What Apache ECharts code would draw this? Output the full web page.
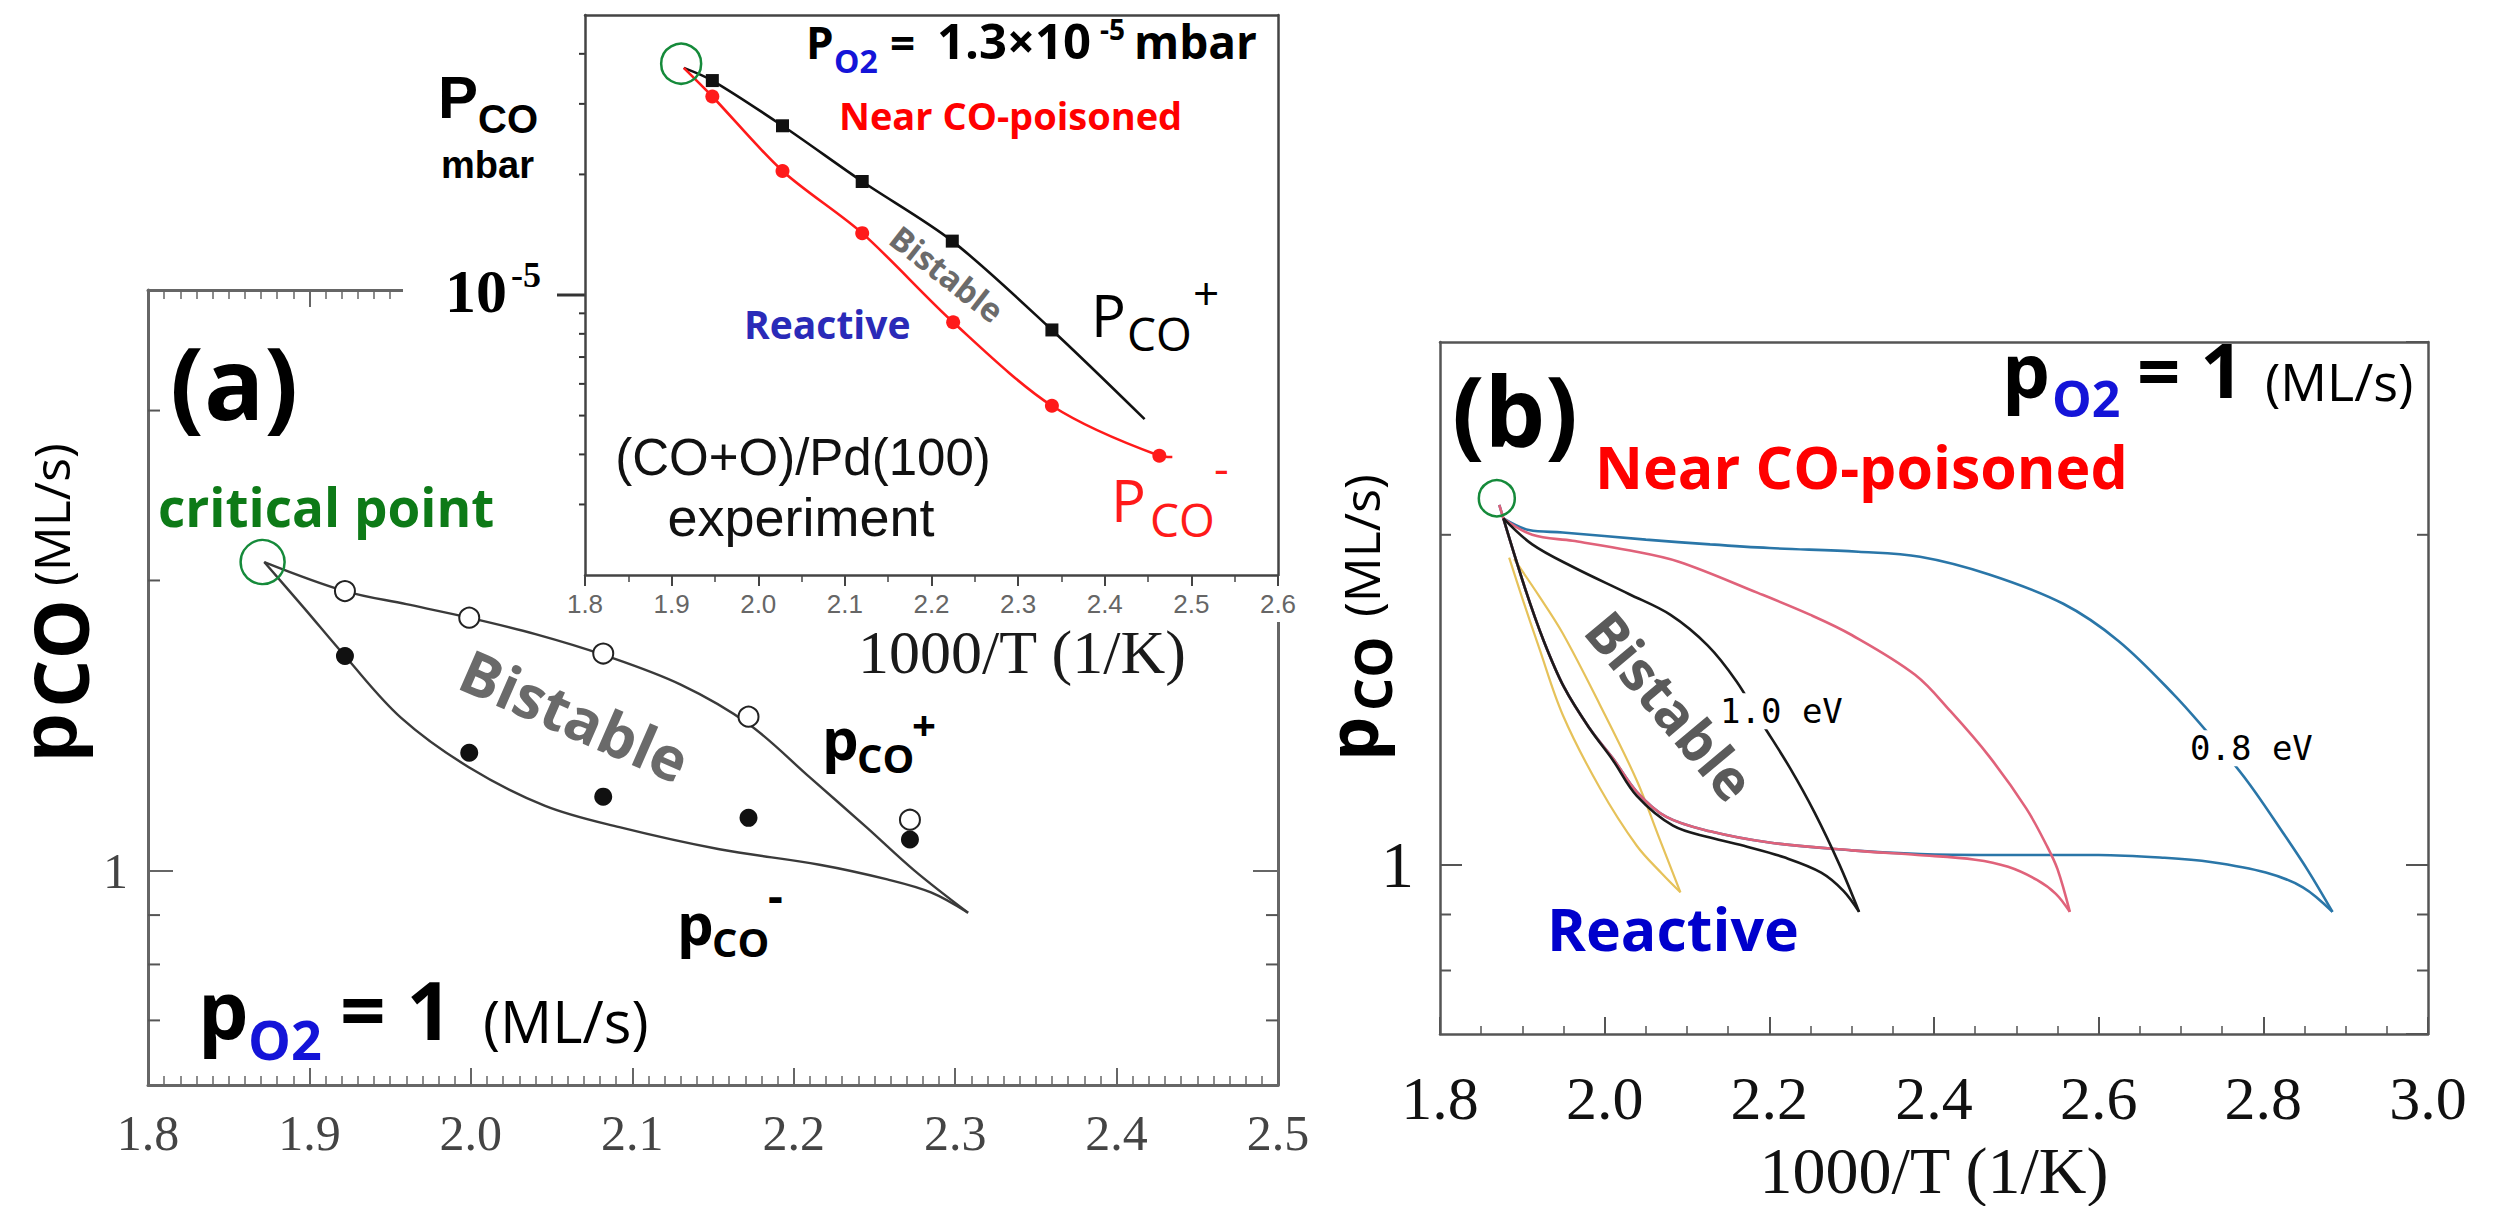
<!DOCTYPE html>
<html>
<head>
<meta charset="utf-8">
<title>CO oxidation bistability</title>
<script src="https://cdn.jsdelivr.net/npm/echarts/dist/echarts.min.js"></script>
<style>
html,body{margin:0;padding:0;background:#ffffff;}
#chart{width:2495px;height:1206px;}
</style>
</head>
<body>
<div id="chart"></div>
<script>
// ================= DATA =================
// ---- Panel (a): simulation, pO2 = 1 ML/s ----
const aXTicks = [1.8, 2.5, 0.1];            // min, max, step of 1000/T
const aYRange = [0.6, 4];                    // pCO (ML/s), log
const aYMinorTicks = [0.7, 0.8, 0.9, 2, 3];
const aCritical = [[1.871, 2.09]];
const aPlusCurve = [[1.872,2.09],[1.922,1.95],[1.96,1.89],[1.999,1.83],[2.04,1.76],[2.082,1.675],[2.13,1.56],[2.172,1.42],[2.21,1.25],[2.245,1.11],[2.275,1.0],[2.308,0.905]];
const aMinusCurve = [[1.872,2.09],[1.897,1.87],[1.922,1.67],[1.957,1.44],[1.999,1.28],[2.046,1.168],[2.092,1.11],[2.154,1.053],[2.216,1.015],[2.258,0.98],[2.285,0.95],[2.308,0.905]];
const aPlusPoints = [[1.922,1.95],[1.999,1.83],[2.082,1.68],[2.172,1.445],[2.272,1.13]];
const aMinusPoints = [[1.922,1.67],[1.999,1.326],[2.082,1.194],[2.172,1.135],[2.272,1.078]];

// ---- Inset: (CO+O)/Pd(100) experiment, PO2 = 1.3e-5 mbar ----
const inXTicks = [1.8, 2.6, 0.1];
const inYRange = [2e-6, 5e-5];
const inYMinorTicks = [3e-6,4e-6,5e-6,6e-6,7e-6,8e-6,9e-6,2e-5,3e-5,4e-5];
const inYMajorTicks = [1e-5];
const inCritical = [[1.911, 3.78e-5]];
const inPlusCurve = [[1.914,3.69e-5],[1.947,3.43e-5],[2.028,2.645e-5],[2.12,1.92e-5],[2.224,1.363e-5],[2.339,8.18e-6],[2.446,4.9e-6]];
const inPlusPoints = [[1.947,3.43e-5],[2.028,2.645e-5],[2.12,1.92e-5],[2.224,1.363e-5],[2.339,8.18e-6]];
const inMinusCurve = [[1.914,3.69e-5],[1.947,3.13e-5],[2.028,2.04e-5],[2.12,1.427e-5],[2.225,8.55e-6],[2.339,5.29e-6],[2.463,3.97e-6],[2.478,3.94e-6]];
const inMinusPoints = [[1.947,3.13e-5],[2.028,2.04e-5],[2.12,1.427e-5],[2.225,8.55e-6],[2.339,5.29e-6],[2.463,3.97e-6]];

// ---- Panel (b): simulation for several barriers ----
const bXTicks = [1.8, 3.0, 0.2];
const bYRange = [0.7, 3];
const bYMinorTicks = [0.8, 0.9, 2];
const bCritical = [[1.869, 2.16]];
const b10Up = [[1.877,2.07],[1.912,1.96],[1.961,1.87],[2.03,1.765],[2.08,1.69],[2.125,1.585],[2.16,1.47],[2.19,1.35],[2.225,1.225],[2.255,1.115],[2.285,1.0],[2.309,0.905]];
const b10Low = [[1.877,2.07],[1.903,1.79],[1.926,1.6],[1.951,1.45],[1.982,1.33],[2.01,1.245],[2.039,1.155],[2.083,1.085],[2.128,1.058],[2.173,1.038],[2.218,1.015],[2.263,0.983],[2.29,0.946],[2.309,0.905]];
const b09Up = [[1.877,2.07],[1.912,2.0],[1.961,1.975],[2.031,1.935],[2.09,1.89],[2.186,1.77],[2.25,1.69],[2.3,1.62],[2.377,1.49],[2.42,1.38],[2.467,1.255],[2.512,1.125],[2.537,1.04],[2.55,0.99],[2.565,0.905]];
const b09Low = [[1.872,2.13],[1.903,1.79],[1.926,1.6],[1.951,1.45],[1.982,1.33],[2.01,1.25],[2.039,1.165],[2.075,1.105],[2.128,1.072],[2.2,1.047],[2.3,1.03],[2.38,1.02],[2.45,1.01],[2.49,0.995],[2.525,0.968],[2.548,0.94],[2.565,0.905]];
const b08Up = [[1.877,2.07],[1.908,2.02],[1.949,2.01],[2.05,1.98],[2.128,1.96],[2.2,1.945],[2.308,1.93],[2.383,1.91],[2.467,1.84],[2.557,1.73],[2.624,1.6],[2.691,1.43],[2.736,1.31],[2.781,1.19],[2.826,1.063],[2.855,0.985],[2.884,0.905]];
const b08Low = [[1.872,2.13],[1.903,1.79],[1.926,1.6],[1.951,1.45],[1.982,1.33],[2.01,1.25],[2.039,1.165],[2.075,1.105],[2.128,1.072],[2.2,1.047],[2.3,1.03],[2.383,1.022],[2.47,1.02],[2.6,1.02],[2.68,1.014],[2.736,1.005],[2.803,0.983],[2.848,0.953],[2.884,0.905]];
const bYellowA = [[1.884,1.906],[1.9,1.75],[1.92,1.58],[1.949,1.37],[1.994,1.175],[2.039,1.04],[2.07,0.98],[2.092,0.943]];
const bYellowB = [[1.89,1.9],[1.92,1.76],[1.949,1.626],[1.994,1.4],[2.039,1.193],[2.065,1.063],[2.092,0.943]];

// ================= HELPERS =================
const FONT_MID = {'Open Sans':0.388,'Liberation Serif':0.3375,'DejaVu Sans Mono':0.346,'Liberation Sans':0.3465};
function T(str, x, base, size, o) {
  o = o || {};
  const fam = o.fam || 'Open Sans';
  const el = {type:'text', x:x, y:base - FONT_MID[fam]*size, z:o.z||30, rotation:o.rot||0, silent:true,
    style:{text:str, fontFamily:fam, fontSize:size, fontWeight:o.w||'bold', fill:o.c||'#000',
      textAlign:o.align||'left', verticalAlign:'middle', textVerticalAlign:'middle'}};
  if (o.bg) { el.style.backgroundColor = o.bg; el.style.padding = [1,3]; }
  return el;
}
// indices: panel (a) -> axes 0, inset -> axes 2, panel (b) -> axes 4
function line(data, idx, color, width, z, smooth) {
  return {type:'line', xAxisIndex:idx, yAxisIndex:idx, data:data, symbol:'none', showSymbol:false,
    smooth: smooth===undefined?0.35:smooth, lineStyle:{color:color, width:width}, z:z||2, silent:true, clip:false};
}
function pts(data, idx, symbol, size, fill, stroke, bw, z) {
  return {type:'scatter', xAxisIndex:idx, yAxisIndex:idx, data:data, symbol:symbol, symbolSize:size,
    itemStyle:{color:fill, borderColor:stroke, borderWidth:bw, opacity:1}, z:z||3, silent:true, clip:false};
}
function ticks(vals, idx, xMin, xMax, len, mode, z, width) {
  return {type:'custom', xAxisIndex:idx, yAxisIndex:idx, z:z||1, silent:true, clip:false,
    data: vals.map(v => [xMin, v]),
    renderItem: function (params, api) {
      const v = api.value(1);
      const pl = api.coord([xMin, v]), pr = api.coord([xMax, v]);
      const st = {stroke:'#555', lineWidth:width||2};
      const ch = [];
      if (mode === 'both') {
        ch.push({type:'line', shape:{x1:pl[0], y1:pl[1], x2:pl[0]+len, y2:pl[1]}, style:st});
        ch.push({type:'line', shape:{x1:pr[0], y1:pr[1], x2:pr[0]-len, y2:pr[1]}, style:st});
      } else {
        ch.push({type:'line', shape:{x1:pl[0], y1:pl[1], x2:pl[0]-len, y2:pl[1]}, style:{stroke:'#333', lineWidth:width||2}});
      }
      return {type:'group', children:ch};
    }};
}
function xAx(grid, rng, pos, o) {
  return {type:'value', gridIndex:grid, min:rng[0], max:rng[1], interval:rng[2], position:pos,
    splitLine:{show:false}, axisLine:{onZero:false, lineStyle:{color:o.lc, width:o.lw}},
    axisTick:{show:o.tick!==false, inside:o.inside, length:o.tl, lineStyle:{color:o.lc, width:2}},
    minorTick:{show:!!o.minor, splitNumber:o.minor||5, length:o.ml, lineStyle:{color:o.lc, width:1.5}},
    axisLabel:{show:!!o.lab, margin:o.margin, fontFamily:o.ff, fontSize:o.fs, color:o.fc, formatter:v=>v.toFixed(1)},
    z:o.z||0};
}
function yAx(grid, rng, pos, o) {
  return {type:'log', logBase:10, gridIndex:grid, min:rng[0], max:rng[1], position:pos,
    splitLine:{show:false}, minorTick:{show:false}, minorSplitLine:{show:false},
    axisLine:{onZero:false, lineStyle:{color:o.lc, width:o.lw}},
    axisTick:{show:o.tick!==false, inside:true, length:o.tl||20, lineStyle:{color:o.lc, width:2}},
    axisLabel:{show:!!o.lab, margin:o.margin, fontFamily:'Liberation Serif', fontSize:o.fs, color:o.fc,
      showMinLabel:false, showMaxLabel:false, formatter:v => (Math.abs(v-1)<1e-9 ? '1' : '')},
    z:o.z||0};
}

// ================= OPTION =================
const aAxis = {lc:'#666', lw:3, inside:true, tl:17, minor:10, ml:9, ff:'Liberation Serif', fs:50, fc:'#444', margin:23};
const inAxis = {lc:'#444', lw:2.5, inside:false, tl:11, minor:2, ml:7, ff:'Liberation Sans', fs:26, fc:'#666', margin:16, z:6};
const bAxis = {lc:'#555', lw:2.5, inside:true, tl:17, minor:4, ml:8, ff:'Liberation Serif', fs:62, fc:'#111', margin:33};
const LS = 'Liberation Sans';

const texts = [
  // ----- panel (a) -----
  T('(a)', 170, 420, 100),
  T('critical point', 158, 527, 53, {c:'#0d7a17'}),
  T('Bistable', 575, 715 + 0.388*60, 60, {c:'#6a6a6a', align:'center', rot:-0.412}),
  T('p', 822, 760, 58), T('CO', 857, 773, 40), T('+', 912, 741, 42),
  T('p', 677, 945, 58), T('CO', 712, 957, 40), T('-', 768, 913, 46),
  T('p', 198, 1040, 80), T('O2', 248, 1060, 54, {c:'#1414d8'}), T('= 1', 340, 1040, 80),
  T('(ML/s)', 483, 1043, 58, {w:'normal'}),
  {type:'group', x:64, y:600, rotation:Math.PI/2, z:30, children:[
    T('p', -162, 12, 80, {fam:LS}), T('CO', -108, 25, 76), T('(ML/s)', 14, 6, 50, {w:'normal'})
  ]},
  // ----- inset -----
  T('P', 806, 59, 44), T('O2', 834, 73, 32, {c:'#1414d8'}), T('=', 890, 59, 44),
  T('1.3\u00d710', 937, 59, 49), T('-5', 1100, 40, 28), T('mbar', 1134, 59, 46),
  T('Near CO-poisoned', 839, 130, 38, {c:'#ff0000'}),
  T('Bistable', 947, 274 + 0.388*33, 33, {c:'#6b6b6b', align:'center', rot:-0.663}),
  T('Reactive', 744, 339, 39, {c:'#2a2ab8'}),
  T('P', 1091, 337, 58, {w:'normal'}), T('CO', 1127, 351, 46, {w:'normal'}), T('+', 1193, 310, 46, {w:'normal'}),
  T('P', 1111, 522, 58, {w:'normal', c:'#ff1a1a'}), T('CO', 1150, 537, 46, {w:'normal', c:'#ff1a1a'}), T('-', 1214, 485, 46, {w:'normal', c:'#ff1a1a'}),
  T('(CO+O)/Pd(100)', 803, 475, 51, {fam:LS, w:'normal', align:'center', c:'#111'}),
  T('experiment', 801, 536, 54, {fam:LS, w:'normal', align:'center', c:'#111'}),
  T('1000/T (1/K)', 1022, 673, 62, {fam:'Liberation Serif', w:'normal', align:'center', c:'#1a1a1a'}),
  T('P', 438, 118, 60, {fam:LS}), T('CO', 478, 133, 40, {fam:LS}), T('mbar', 441, 178, 38, {fam:LS}),
  T('10', 507, 312, 62, {fam:'Liberation Serif', align:'right'}),
  T('-5', 511, 287, 36, {fam:'Liberation Serif'}),
  // ----- panel (b) -----
  T('(b)', 1452, 447, 96),
  T('Near CO-poisoned', 1595, 489, 59, {c:'#ff0000'}),
  T('p', 2002, 398, 76), T('O2', 2052, 417, 50, {c:'#1414d8'}), T('= 1', 2137, 398, 76),
  T('(ML/s)', 2265, 401, 52, {w:'normal'}),
  T('Bistable', 1671, 705 + 0.388*56, 56, {c:'#5a5a5a', align:'center', rot:-0.873}),
  T('1.0 eV', 1717, 723, 34, {fam:'DejaVu Sans Mono', w:'normal', bg:'#ffffff'}),
  T('0.8 eV', 2187, 760, 34, {fam:'DejaVu Sans Mono', w:'normal', bg:'#ffffff'}),
  T('Reactive', 1547, 951, 59, {c:'#0000cc'}),
  {type:'group', x:1370, y:607, rotation:Math.PI/2, z:30, children:[
    T('p', -154, 8, 70), T('CO', -104, 22, 52), T('(ML/s)', -10, 10, 50, {w:'normal'})
  ]},
  T('1000/T (1/K)', 1934, 1193, 66, {fam:'Liberation Serif', w:'normal', align:'center', c:'#111'})
];

const masks = [
  {type:'rect', shape:{x:403, y:0, width:200, height:333}, style:{fill:'#ffffff'}, z:5, silent:true},
  {type:'rect', shape:{x:560, y:0, width:740, height:584}, style:{fill:'#ffffff'}, z:5, silent:true},
  {type:'rect', shape:{x:1262, y:0, width:40, height:622}, style:{fill:'#ffffff'}, z:5, silent:true}
];

const option = {
  animation:false,
  backgroundColor:'#ffffff',
  grid:[
    {left:148, top:290, width:1130, height:795, containLabel:false, outerBoundsMode:'none'},
    {left:585, top:15, width:693, height:560, containLabel:false, outerBoundsMode:'none'},
    {left:1440, top:342, width:988, height:692, containLabel:false, outerBoundsMode:'none'}
  ],
  xAxis:[
    xAx(0, aXTicks, 'bottom', Object.assign({}, aAxis, {lab:true})),
    xAx(0, aXTicks, 'top', Object.assign({}, aAxis, {lab:false})),
    xAx(1, inXTicks, 'bottom', Object.assign({}, inAxis, {lab:true})),
    xAx(1, inXTicks, 'top', Object.assign({}, inAxis, {lab:false, tick:false, minor:0})),
    xAx(2, bXTicks, 'bottom', Object.assign({}, bAxis, {lab:true})),
    xAx(2, bXTicks, 'top', Object.assign({}, bAxis, {lab:false, tick:false, minor:0}))
  ],
  yAxis:[
    yAx(0, aYRange, 'left', {lc:'#666', lw:3, tl:25, lab:true, margin:20, fs:50, fc:'#444'}),
    yAx(0, aYRange, 'right', {lc:'#666', lw:3, tl:25, lab:false}),
    yAx(1, inYRange, 'left', {lc:'#444', lw:2.5, tick:false, lab:false, z:6}),
    yAx(1, inYRange, 'right', {lc:'#444', lw:2.5, tick:false, lab:false, z:6}),
    yAx(2, bYRange, 'left', {lc:'#555', lw:2.5, tl:22, lab:true, margin:26, fs:66, fc:'#111'}),
    yAx(2, bYRange, 'right', {lc:'#555', lw:2.5, tl:22, lab:false})
  ],
  graphic:{elements: masks.concat(texts)},
  series:[
    // panel (a)
    ticks(aYMinorTicks, 0, aXTicks[0], aXTicks[1], 12, 'both', 1),
    line(aPlusCurve, 0, '#3a3a3a', 2.4, 2),
    line(aMinusCurve, 0, '#3a3a3a', 2.4, 2),
    pts(aPlusPoints, 0, 'circle', 20, '#ffffff', '#222222', 2, 3),
    pts(aMinusPoints, 0, 'circle', 18, '#111111', '#111111', 0, 3),
    pts(aCritical, 0, 'circle', 44, 'rgba(0,0,0,0)', '#158a3a', 2.5, 4),
    // inset
    ticks(inYMinorTicks, 2, inXTicks[0], inXTicks[1], 6, 'left', 6, 2),
    ticks(inYMajorTicks, 2, inXTicks[0], inXTicks[1], 28, 'left', 6, 3),
    line(inPlusCurve, 2, '#111111', 2.6, 7, 0.3),
    line(inMinusCurve, 2, '#ff1a1a', 2.6, 7, 0.3),
    pts(inPlusPoints, 2, 'rect', 13, '#111111', '#111111', 0, 8),
    pts(inMinusPoints, 2, 'circle', 14, '#ff1a1a', '#ff1a1a', 0, 8),
    pts(inCritical, 2, 'circle', 40, 'rgba(0,0,0,0)', '#158a3a', 2.5, 9),
    // panel (b)
    ticks(bYMinorTicks, 4, bXTicks[0], bXTicks[1], 11, 'both', 1),
    line(bYellowA, 4, '#e6c25a', 2.2, 2),
    line(bYellowB, 4, '#e6c25a', 2.2, 2),
    line(b08Up, 4, '#2a76a8', 2.6, 2),
    line(b08Low, 4, '#2a76a8', 2.6, 2),
    line(b09Up, 4, '#e0627a', 2.6, 3),
    line(b09Low, 4, '#e0627a', 2.6, 3),
    line(b10Up, 4, '#1a1a1a', 2.6, 3),
    line(b10Low, 4, '#1a1a1a', 2.6, 3),
    pts(bCritical, 4, 'circle', 36, 'rgba(0,0,0,0)', '#158a3a', 2.5, 4)
  ]
};

const chart = echarts.init(document.getElementById('chart'), null, {renderer:'svg', width:2495, height:1206});
chart.setOption(option);
</script>
</body>
</html>
